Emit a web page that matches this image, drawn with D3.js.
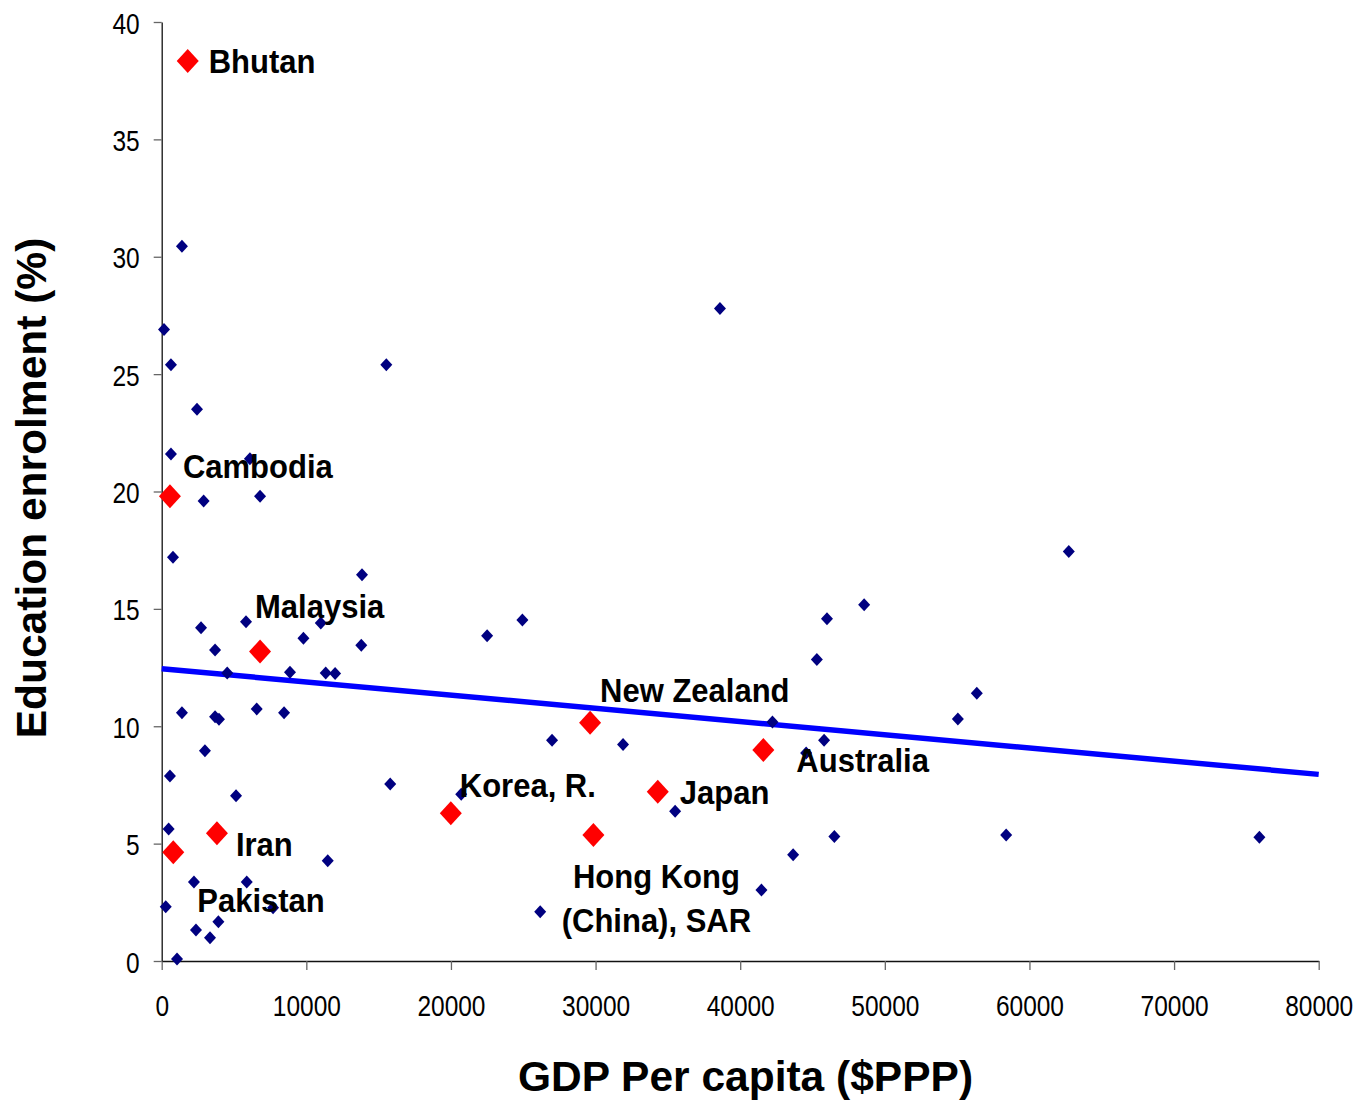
<!DOCTYPE html>
<html>
<head>
<meta charset="utf-8">
<script src="https://cdn.jsdelivr.net/npm/d3@7"></script>
<style>
  html, body { margin: 0; padding: 0; background: #fff; }
  svg { display: block; font-family: "Liberation Sans", Arial, sans-serif; }
</style>
</head>
<body>
<svg id="chart" width="1359" height="1100"></svg>
<script>
// ---- Data ----
const otherGdp = [1400, 160, 640, 2440, 640, 6100, 6800, 2900, 780, 13850, 15530, 38600,
  2720, 5830, 11000, 9800, 13800, 3690, 4530, 8870, 11340, 11990, 1400, 3690, 3960, 6570,
  8460, 2990, 570, 5140, 15800, 480, 2230, 5880, 280, 7700, 2370, 3340, 3920, 1060, 11480,
  20710, 26170, 22500, 24940, 46000, 48570, 45300, 26990, 31900, 42230, 45800, 44560,
  35500, 46510, 43660, 41470, 62720, 56360, 55050, 58390, 75900];
const otherEnrol = [30.45, 26.9, 25.4, 23.5, 21.6, 21.4, 19.8, 19.6, 17.2, 16.45, 25.4, 27.8,
  14.2, 14.45, 14.4, 13.75, 13.45, 13.25, 12.27, 12.3, 12.27, 12.25, 10.57, 10.4, 10.3, 10.74,
  10.57, 8.96, 7.88, 7.04, 7.54, 5.62, 3.37, 3.37, 2.31, 2.27, 1.32, 0.99, 1.67, 0.09, 4.27,
  7.1, 2.1, 13.85, 14.53, 14.58, 15.18, 12.84, 9.4, 9.22, 10.18, 9.4, 8.86,
  6.38, 5.3, 4.53, 3.02, 17.44, 11.41, 10.31, 5.37, 5.27];

const highlightNames = ["Bhutan", "Cambodia", "Malaysia", "Iran", "Pakistan", "Korea, R.",
  "New Zealand", "Japan", "Hong Kong\n(China), SAR", "Australia"];
const highlightGdp = [1800, 570, 6800, 3820, 800, 19990, 29620, 34300, 29850, 41600];
const highlightEnrol = [38.34, 19.8, 13.18, 5.44, 4.63, 6.29, 10.15, 7.21, 5.37, 8.99];

const trendGdp = [0, 80000];
const trendEnrol = [12.45, 7.95];

const xTicks = [0, 10000, 20000, 30000, 40000, 50000, 60000, 70000, 80000];
const yTicks = [0, 5, 10, 15, 20, 25, 30, 35, 40];

// ---- Layout (label placement relative to its marker, in px) ----
const labelOffsets = [
  {dx: 21, dy: 12, anchor: "start"},
  {dx: 13, dy: -18, anchor: "start"},
  {dx: -5, dy: -34, anchor: "start"},
  {dx: 19, dy: 23, anchor: "start"},
  {dx: 24, dy: 60, anchor: "start"},
  {dx: 9, dy: -16, anchor: "start"},
  {dx: 10, dy: -21, anchor: "start"},
  {dx: 22, dy: 12, anchor: "start"},
  {dx: 63, dy: 53, anchor: "middle"},
  {dx: 33, dy: 22, anchor: "start"}
];

const svg = d3.select("#chart");
const x = d3.scaleLinear().domain([0, 80000]).range([161.7, 1318.7]);
const y = d3.scaleLinear().domain([0, 40]).range([961, 22]);

// Axes
const xAxis = svg.append("g").attr("transform", `translate(0,${y(0)})`)
  .call(d3.axisBottom(x).tickValues(xTicks).tickSize(9).tickSizeOuter(0).tickFormat(d3.format("d")));
const yAxis = svg.append("g").attr("transform", `translate(${x(0)},0)`)
  .call(d3.axisLeft(y).tickValues(yTicks).tickSize(8).tickSizeOuter(0).tickFormat(d3.format("d")));

[xAxis, yAxis].forEach(g => {
  g.select(".domain").attr("stroke", "#111").attr("stroke-width", 1.3);
  g.selectAll(".tick line").attr("stroke", "#666").attr("stroke-width", 1.3);
  g.selectAll(".tick text").attr("fill", "#000").style("font-size", "24.5px")
    .style("font-family", '"Liberation Sans", Arial, sans-serif');
});
xAxis.selectAll(".tick text").attr("y", null).attr("dy", null).attr("x", null)
  .attr("text-anchor", "middle").attr("transform", "translate(0,55) scale(1,1.2)");
yAxis.selectAll(".tick text").attr("x", null).attr("dy", null)
  .attr("text-anchor", "end").attr("transform", "translate(-22,11) scale(1,1.2)");

// Trend line
svg.append("path")
  .datum(trendGdp.map((g, i) => [g, trendEnrol[i]]))
  .attr("fill", "none").attr("stroke", "#0000ff").attr("stroke-width", 5.5)
  .attr("d", d3.line().x(d => x(d[0])).y(d => y(d[1])));

// Diamond marker
function diamond(hw, hh) {
  return `M0,${-hh}L${hw},0L0,${hh}L${-hw},0Z`;
}

svg.append("g").selectAll("path")
  .data(otherGdp.map((g, i) => [g, otherEnrol[i]]))
  .join("path")
  .attr("d", diamond(6, 6.5))
  .attr("fill", "#000080")
  .attr("transform", d => `translate(${x(d[0])},${y(d[1])})`);

svg.append("g").selectAll("path")
  .data(highlightGdp.map((g, i) => [g, highlightEnrol[i]]))
  .join("path")
  .attr("d", diamond(11, 12))
  .attr("fill", "#ff0000")
  .attr("transform", d => `translate(${x(d[0])},${y(d[1])})`);

// Labels
highlightNames.forEach((name, i) => {
  const o = labelOffsets[i];
  const px = x(highlightGdp[i]) + o.dx;
  const py = y(highlightEnrol[i]) + o.dy;
  name.split("\n").forEach((line, j) => {
    svg.append("text")
      .attr("transform", `translate(${px},${py + j * 44}) scale(1,1.07)`)
      .attr("text-anchor", o.anchor)
      .style("font-size", "31px").style("font-weight", "bold").attr("fill", "#000")
      .text(line);
  });
});

// Axis titles
svg.append("text")
  .attr("x", 745.5).attr("y", 1091)
  .attr("text-anchor", "middle")
  .style("font-size", "42.5px").style("font-weight", "bold")
  .text("GDP Per capita ($PPP)");

svg.append("text")
  .attr("transform", "translate(46,488) rotate(-90)")
  .attr("text-anchor", "middle")
  .style("font-size", "42.5px").style("font-weight", "bold")
  .text("Education enrolment (%)");
</script>
</body>
</html>
